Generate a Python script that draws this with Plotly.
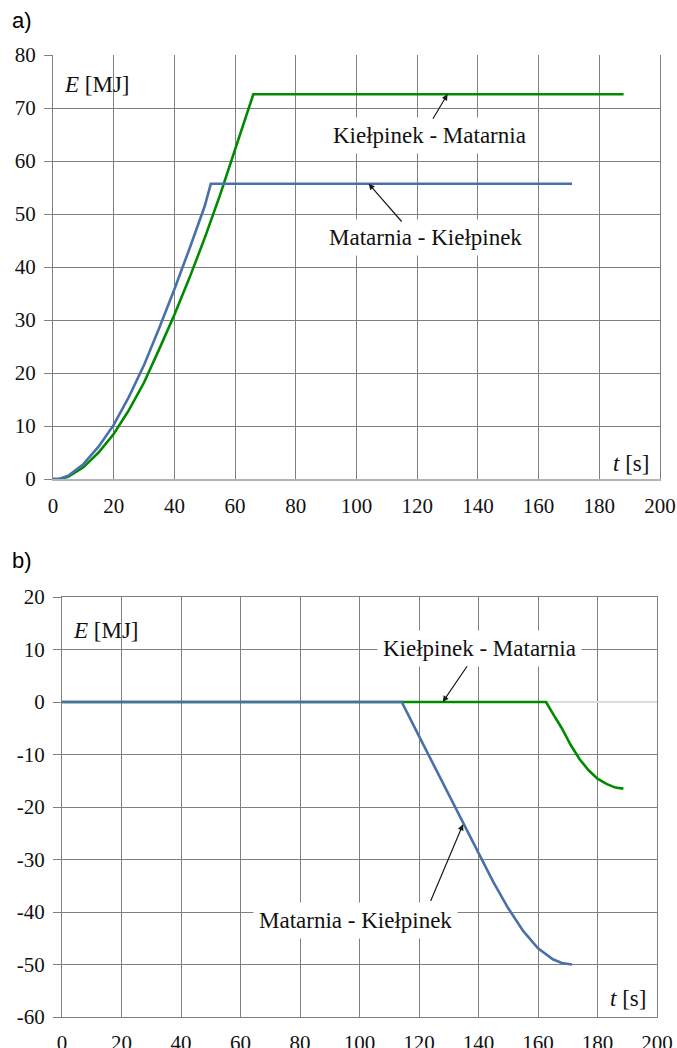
import plotly.graph_objects as go

# ---- data: panel a ----
a_mk_t = [0, 2, 5, 10, 15, 20, 25, 30, 35, 40, 45, 50, 52, 171]
a_mk_E = [0, 0, 0.6, 2.8, 6.1, 10.2, 15.5, 21.5, 28.5, 35.8, 43.5, 51.5, 55.7, 55.7]
a_km_t = [0, 2, 5, 10, 15, 20, 25, 30, 35, 40, 45, 50, 55, 60, 66, 188]
a_km_E = [0, 0, 0.4, 2.2, 5.0, 8.5, 13.0, 18.2, 24.5, 31.0, 38.0, 45.5, 53.5, 62.0, 72.6, 72.6]

# ---- data: panel b ----
b_mk_t = [0, 114.2, 120, 125, 130, 135, 140, 145, 150, 155, 160, 165, 168, 171.4]
b_mk_E = [0, 0, -6.5, -12.1, -17.7, -23.3, -28.9, -34.3, -39.3, -43.6, -46.9, -49.0, -49.7, -50.0]
b_km_t = [0, 162.7, 165, 168, 171, 174, 177, 180, 183, 186, 188.7]
b_km_E = [0, 0, -2.2, -5.0, -8.2, -10.9, -13.0, -14.6, -15.6, -16.3, -16.5]

x_ticks = [0, 20, 40, 60, 80, 100, 120, 140, 160, 180, 200]
a_y_ticks = [0, 10, 20, 30, 40, 50, 60, 70, 80]
b_y_ticks = [-60, -50, -40, -30, -20, -10, 0, 10, 20]
b_y_labels = ["-60", "-50", "-40", "-30", "-20", "-10", "0", "10", "20"]

GREEN = "#008a00"
BLUE = "#4a70aa"
GRID = "#808080"
SERIF = "Liberation Serif"

fig = go.Figure()
fig.add_trace(go.Scatter(x=a_km_t, y=a_km_E, mode="lines", line=dict(color=GREEN, width=2.6),
                         xaxis="x", yaxis="y", name="Kiełpinek - Matarnia"))
fig.add_trace(go.Scatter(x=a_mk_t, y=a_mk_E, mode="lines", line=dict(color=BLUE, width=2.6),
                         xaxis="x", yaxis="y", name="Matarnia - Kiełpinek"))
fig.add_trace(go.Scatter(x=b_km_t, y=b_km_E, mode="lines", line=dict(color=GREEN, width=2.6),
                         xaxis="x2", yaxis="y2", name="Kiełpinek - Matarnia"))
fig.add_trace(go.Scatter(x=b_mk_t, y=b_mk_E, mode="lines", line=dict(color=BLUE, width=2.6),
                         xaxis="x2", yaxis="y2", name="Matarnia - Kiełpinek"))

tickfont = dict(family=SERIF, size=21, color="#111111")

def xax(domain, anchor, linecolor, linewidth, mirror):
    return dict(domain=domain, anchor=anchor, range=[0, 200], tickvals=x_ticks,
                showgrid=True, gridcolor=GRID, gridwidth=1, zeroline=False,
                showline=True, linecolor=linecolor, linewidth=linewidth, mirror=mirror,
                ticks="", tickfont=tickfont, ticklabelstandoff=7, fixedrange=True,
                automargin=False)

def yax(domain, anchor, rng, vals, texts, zl):
    return dict(domain=domain, anchor=anchor, range=rng, tickvals=vals, ticktext=texts,
                showgrid=True, gridcolor=GRID, gridwidth=1,
                zeroline=zl, zerolinecolor="#dcdcdc", zerolinewidth=2,
                showline=True, linecolor=GRID, linewidth=1, mirror=True,
                ticks="outside", ticklen=8, tickcolor=GRID, tickfont=tickfont,
                ticklabelstandoff=4, fixedrange=True, automargin=False)

fig.update_layout(
    width=677, height=1048, margin=dict(l=0, r=0, t=0, b=0, pad=0, autoexpand=False),
    paper_bgcolor="white", plot_bgcolor="white", showlegend=False,
    xaxis=xax([53/677, 660/677], "y", "#b4b4b4", 2, False),
    yaxis=yax([(1048-479)/1048, (1048-55)/1048], "x", [0, 80], a_y_ticks,
              [str(v) for v in a_y_ticks], False),
    xaxis2=xax([62/677, 657/677], "y2", GRID, 1, True),
    yaxis2=yax([31/1048, 451/1048], "x2", [-60, 20], b_y_ticks, b_y_labels, True),
)

lab = dict(family=SERIF, size=23, color="#111111")
ann = []
# panel labels
ann.append(dict(text="a)", x=10/677, y=1-6/1048, xref="paper", yref="paper", xanchor="left",
                yanchor="top", showarrow=False, font=dict(family="Liberation Sans", size=22, color="black")))
ann.append(dict(text="b)", x=10/677, y=1-546/1048, xref="paper", yref="paper", xanchor="left",
                yanchor="top", showarrow=False, font=dict(family="Liberation Sans", size=22, color="black")))
# axis titles
ann.append(dict(text="<i>E</i> [MJ]", x=3, y=74.5, xref="x", yref="y", xanchor="left", yanchor="middle",
                showarrow=False, font=lab))
ann.append(dict(text="<i>t</i> [s]", x=197, y=3, xref="x", yref="y", xanchor="right", yanchor="middle",
                showarrow=False, font=lab))
ann.append(dict(text="<i>E</i> [MJ]", x=3, y=13.7, xref="x2", yref="y2", xanchor="left", yanchor="middle",
                showarrow=False, font=lab))
ann.append(dict(text="<i>t</i> [s]", x=197, y=-56.5, xref="x2", yref="y2", xanchor="right", yanchor="middle",
                showarrow=False, font=lab))
# panel a series labels
ann.append(dict(text="Kiełpinek - Matarnia", x=124.2, y=64.9, xref="x", yref="y", showarrow=False,
                font=lab, bgcolor="white", borderpad=5))
ann.append(dict(text="", x=130, y=72.6, ax=124.9, ay=67.7, xref="x", yref="y", axref="x", ayref="y",
                showarrow=True, arrowhead=2, arrowsize=1, arrowwidth=1.2, arrowcolor="#1a1a1a"))
ann.append(dict(text="Matarnia - Kiełpinek", x=122.6, y=45.5, xref="x", yref="y", showarrow=False,
                font=lab, bgcolor="white", borderpad=5))
ann.append(dict(text="", x=104, y=55.7, ax=115.3, ay=48.3, xref="x", yref="y", axref="x", ayref="y",
                showarrow=True, arrowhead=2, arrowsize=1, arrowwidth=1.2, arrowcolor="#1a1a1a"))
# panel b series labels
ann.append(dict(text="Kiełpinek - Matarnia", x=140.5, y=10.1, xref="x2", yref="y2", showarrow=False,
                font=lab, bgcolor="white", borderpad=5))
ann.append(dict(text="", x=128, y=0, ax=136.5, ay=7.1, xref="x2", yref="y2", axref="x2", ayref="y2",
                showarrow=True, arrowhead=2, arrowsize=1, arrowwidth=1.2, arrowcolor="#1a1a1a"))
ann.append(dict(text="Matarnia - Kiełpinek", x=98.8, y=-41.6, xref="x2", yref="y2", showarrow=False,
                font=lab, bgcolor="white", borderpad=5))
ann.append(dict(text="", x=134.8, y=-23.3, ax=123.7, ay=-38.2, xref="x2", yref="y2", axref="x2", ayref="y2",
                showarrow=True, arrowhead=2, arrowsize=1, arrowwidth=1.2, arrowcolor="#1a1a1a"))
fig.update_layout(annotations=ann)

fig.write_html("out.html", config={"displayModeBar": False},
               post_script="document.body.style.margin='0';document.documentElement.style.overflow='hidden';")
